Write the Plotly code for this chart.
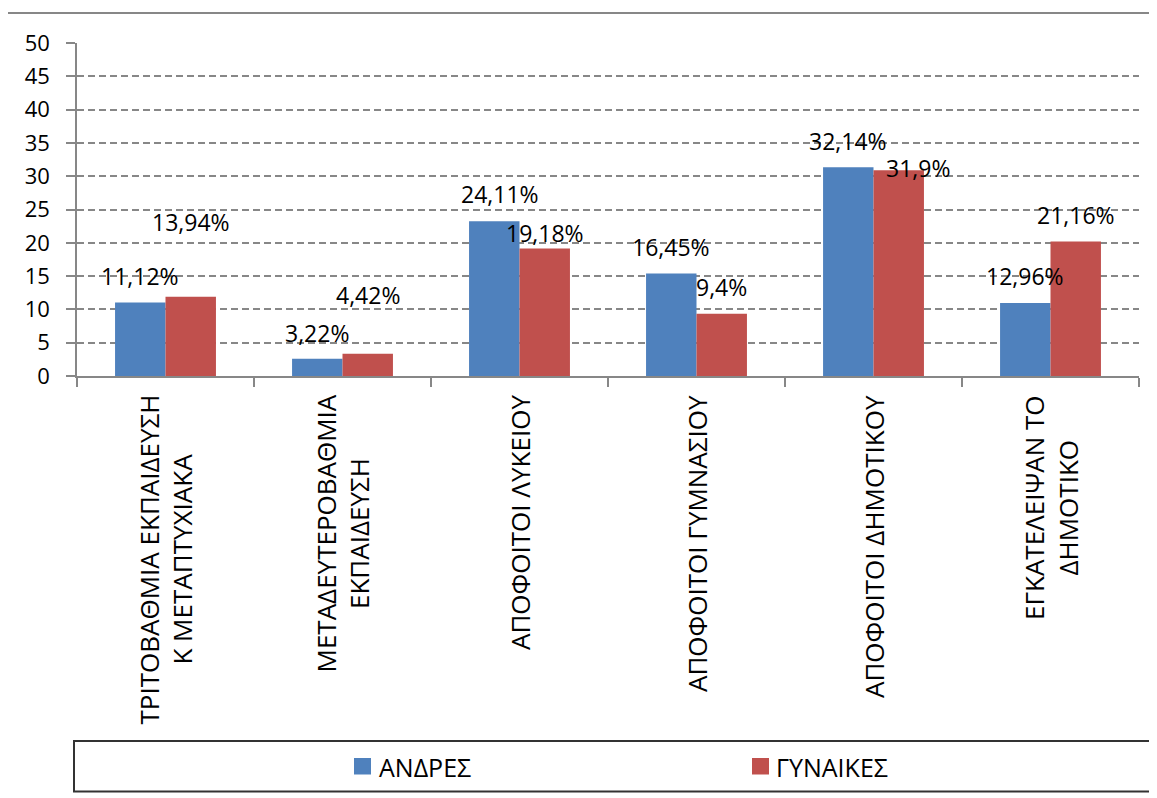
import plotly.graph_objects as go

# ---------------- data ----------------
categories = [
    "ΤΡΙΤΟΒΑΘΜΙΑ ΕΚΠΑΙΔΕΥΣΗ<br>Κ ΜΕΤΑΠΤΥΧΙΑΚΑ",
    "ΜΕΤΑΔΕΥΤΕΡΟΒΑΘΜΙΑ<br>ΕΚΠΑΙΔΕΥΣΗ",
    "ΑΠΟΦΟΙΤΟΙ ΛΥΚΕΙΟΥ",
    "ΑΠΟΦΟΙΤΟΙ ΓΥΜΝΑΣΙΟΥ",
    "ΑΠΟΦΟΙΤΟΙ ΔΗΜΟΤΙΚΟΥ",
    "ΕΓΚΑΤΕΛΕΙΨΑΝ ΤΟ<br>ΔΗΜΟΤΙΚΟ",
]
series_names = ["ΑΝΔΡΕΣ", "ΓΥΝΑΙΚΕΣ"]
men_values = [11.05, 2.6, 23.25, 15.4, 31.35, 10.95]
women_values = [11.9, 3.35, 19.15, 9.35, 30.9, 20.2]
men_labels = ["11,12%", "3,22%", "24,11%", "16,45%", "32,14%", "12,96%"]
women_labels = ["13,94%", "4,42%", "19,18%", "9,4%", "31,9%", "21,16%"]
y_ticks = [0, 5, 10, 15, 20, 25, 30, 35, 40, 45, 50]

# ---------------- label placement (layout, not data) ----------------
men_label_y = [15.0, 6.5, 27.3, 19.4, 35.35, 15.0]
women_label_y = [23.1, 12.1, 21.5, 13.3, 31.3, 24.1]
men_label_dx = [0, 0, 6, 0, 0, 0]
women_label_dx = [0, 0, 0, 0, 19, 0]

# ---------------- style ----------------
BLUE = "#4F81BD"
RED = "#C0504D"
GRAY = "#878787"
FONT = "Open Sans"
OFF = 8  # page body margin
W, H = 1157 - OFF, 798 - OFF
ML, MR, MT, MB = 77 - OFF, 18, 43 - OFF, 422
PW = W - ML - MR
PH = H - MT - MB
BARGAP = 0.43
cat_px = PW / len(categories)
bar_px = cat_px * (1 - BARGAP) / 2


def px2x(px):
    return (px - OFF - ML) / PW


def py2y(py):
    return (H - MB - (py - OFF)) / PH


fig = go.Figure()
fig.add_trace(go.Bar(name=series_names[0], x=categories, y=men_values,
                     marker=dict(color=BLUE, line=dict(width=0))))
fig.add_trace(go.Bar(name=series_names[1], x=categories, y=women_values,
                     marker=dict(color=RED, line=dict(width=0))))

annotations = []
# data labels
for i, c in enumerate(categories):
    annotations.append(dict(x=c, y=men_label_y[i], xref="x", yref="y",
                            text=men_labels[i], showarrow=False,
                            xshift=-bar_px / 2 + men_label_dx[i],
                            font=dict(family=FONT, size=23, color="black")))
    annotations.append(dict(x=c, y=women_label_y[i], xref="x", yref="y",
                            text=women_labels[i], showarrow=False,
                            xshift=bar_px / 2 + women_label_dx[i],
                            font=dict(family=FONT, size=23, color="black")))
# category labels (rotated, centred lines)
for c in categories:
    annotations.append(dict(x=c, y=0, xref="x", yref="paper", text=c,
                            showarrow=False, textangle=-90, yanchor="top",
                            xanchor="center", align="center", yshift=-17,
                            font=dict(family=FONT, size=26, color="black")))

shapes = []
# outer chart border
shapes.append(dict(type="rect", xref="paper", yref="paper",
                   x0=px2x(7), x1=px2x(1175), y0=py2y(815), y1=py2y(13),
                   line=dict(color=GRAY, width=2), layer="below"))
# legend box
shapes.append(dict(type="rect", xref="paper", yref="paper",
                   x0=px2x(74), x1=px2x(1155), y0=py2y(791.5), y1=py2y(741),
                   line=dict(color="#333333", width=2)))
# legend entries
legend_items = [(series_names[0], BLUE, 354, 379), (series_names[1], RED, 752, 776)]
for name, col, sx, tx in legend_items:
    shapes.append(dict(type="rect", xref="paper", yref="paper",
                       x0=px2x(sx), x1=px2x(sx + 17), y0=py2y(774.5), y1=py2y(758),
                       line=dict(width=0), fillcolor=col))
    annotations.append(dict(x=px2x(tx), y=py2y(766.5), xref="paper", yref="paper",
                            text=name, showarrow=False, xanchor="left",
                            yanchor="middle", xshift=-2,
                            font=dict(family=FONT, size=25, color="black")))

fig.update_layout(
    width=W, height=H,
    margin=dict(l=ML, r=MR, t=MT, b=MB),
    paper_bgcolor="white", plot_bgcolor="white",
    barmode="group", bargap=BARGAP, bargroupgap=0,
    showlegend=False,
    font=dict(family=FONT, color="black"),
    annotations=annotations,
    shapes=shapes,
    xaxis=dict(type="category", showticklabels=False, tickson="boundaries",
               ticks="outside", ticklen=9, tickwidth=1.5, tickcolor=GRAY,
               showline=True, linecolor=GRAY, linewidth=1.5,
               showgrid=False, zeroline=False),
    yaxis=dict(range=[0, 50], tickvals=y_ticks, ticks="outside", ticklen=9,
               tickwidth=1.5, tickcolor=GRAY, showline=True, linecolor=GRAY,
               linewidth=1.5, showgrid=True, gridcolor=GRAY, gridwidth=1.5,
               griddash="7px,4px", zeroline=False, ticklabelstandoff=12,
               tickfont=dict(family=FONT, size=22, color="black")),
)

fig.write_html("out.html")
